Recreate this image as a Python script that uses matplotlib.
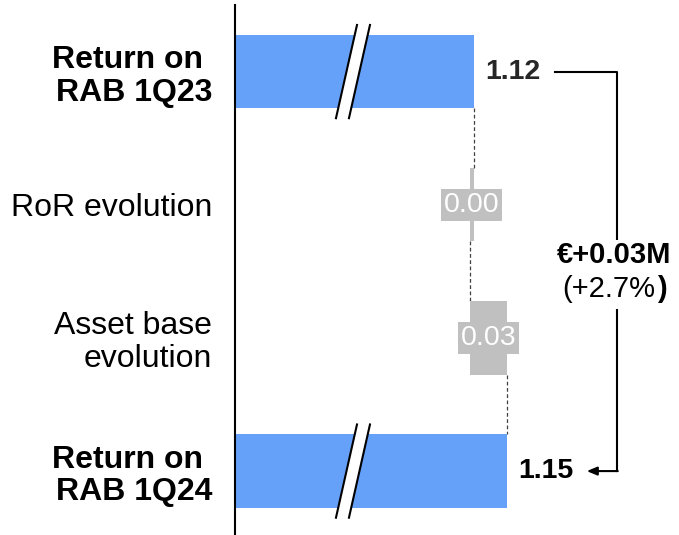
import matplotlib
matplotlib.use("Agg")
from matplotlib import pyplot as plt
from matplotlib.patches import Polygon

plt.rcParams['font.family'] = ['Liberation Sans', 'DejaVu Sans']

# data
categories = ["Return on \nRAB 1Q23", "RoR evolution", "Asset base\nevolution", "Return on \nRAB 1Q24"]
start_value = 1.12
steps = [-0.004, 0.034]          # RoR evolution, asset base evolution
step_labels = ["0.00", "0.03"]
end_value = 1.15
total_label = "1.12"
end_label = "1.15"
delta_text = "€+0.03M"
delta_pct = "(+2.7%"

blue = "#66a1f9"
grey = "#c0c0c0"

fig = plt.figure(figsize=(6.79, 5.35), dpi=100)
ax = fig.add_axes([235 / 679, 0, 444 / 679, 530 / 535])

h = 0.55
# total bars
ax.barh(0, start_value, height=h, color=blue, zorder=2)
ax.barh(3, end_value, height=h, color=blue, zorder=2)

# step bars
left = start_value
lefts = []
for i, s in enumerate(steps):
    ax.barh(i + 1, s, left=left, height=h, color=grey, zorder=2)
    lefts.append(left)
    left += s

# connectors
conn = dict(color="#404040", lw=0.9, ls=(0, (3, 2)), zorder=1)
ax.plot([start_value, start_value], [h / 2, 1 - h / 2], **conn)
ax.plot([start_value + steps[0]] * 2, [1 + h / 2, 2 - h / 2], **conn)
ax.plot([left, left], [2 + h / 2, 3 - h / 2], **conn)

# step labels
for i, (s, lab) in enumerate(zip(steps, step_labels)):
    xc = lefts[i] + s / 2
    ax.text(xc, i + 1, lab, ha="center", va="center", fontsize=20.5, color="white", zorder=3,
            bbox=dict(boxstyle="square,pad=0.1", fc=grey, ec="none"))

# value labels
ax.text(start_value + 0.01, 0, total_label, ha="left", va="center", fontsize=20.5,
        fontweight="bold", color="#262626")
ax.text(end_value + 0.01, 3, end_label, ha="left", va="center", fontsize=20.5,
        fontweight="bold", color="black")

# axis break marks on the blue bars
for yc in (0, 3):
    top, bot = yc - 0.35, yc + 0.35
    xa_b, xa_t, gap = 0.9945, 1.0136, 0.0118
    ax.add_patch(Polygon([(xa_b, bot), (xa_t, top), (xa_t + gap, top), (xa_b + gap, bot)],
                         closed=True, fc="white", ec="none", zorder=3))
    ax.plot([xa_b, xa_t], [bot, top], color="black", lw=1.5, zorder=4)
    ax.plot([xa_b + gap, xa_t + gap], [bot, top], color="black", lw=1.5, zorder=4)

# bracket with arrow
bx = 1.250
ax.plot([1.1936, bx, bx], [0, 0, 3], color="black", lw=1.5, zorder=1, clip_on=False)
ax.annotate("", xy=(1.2225, 3), xytext=(bx + 0.0007, 3),
            arrowprops=dict(arrowstyle="-|>,head_length=0.6,head_width=0.25", color="black", lw=1.5,
                            shrinkA=0, shrinkB=0), annotation_clip=False)
ax.text(bx - 0.003, 1.38, delta_text, ha="center", va="center", fontsize=21, fontweight="bold",
        color="black", zorder=3, bbox=dict(boxstyle="square,pad=0.05", fc="white", ec="none"))
# white strip behind the percentage so the bracket line is interrupted
ax.plot([bx, bx], [1.5, 1.78], color="white", lw=4, zorder=2, solid_capstyle="butt")
t = ax.text(bx - 0.0075, 1.63, delta_pct, ha="center", va="center", fontsize=21,
            color="black", zorder=3)
ax.annotate(")", xy=(1, 0.5), xycoords=t, xytext=(1, 0), textcoords="offset points",
            ha="left", va="center", fontsize=21, fontweight="bold", color="black", zorder=3)

ax.set_xlim(0.9027, 0.9027 + 444 / 1100)
ax.set_ylim(3.48, -0.50)

ax.set_yticks(range(len(categories)))
ax.set_yticklabels(categories, fontsize=23, linespacing=1.12, ha="right")
for i, lab in enumerate(ax.get_yticklabels()):
    if i in (0, 3):
        lab.set_fontweight("bold")
ax.tick_params(axis="y", length=0, pad=16.5)
ax.set_xticks([])
for sp in ("top", "right", "bottom"):
    ax.spines[sp].set_visible(False)
ax.spines["left"].set_linewidth(1.5)

fig.savefig("out.png", dpi=100)
